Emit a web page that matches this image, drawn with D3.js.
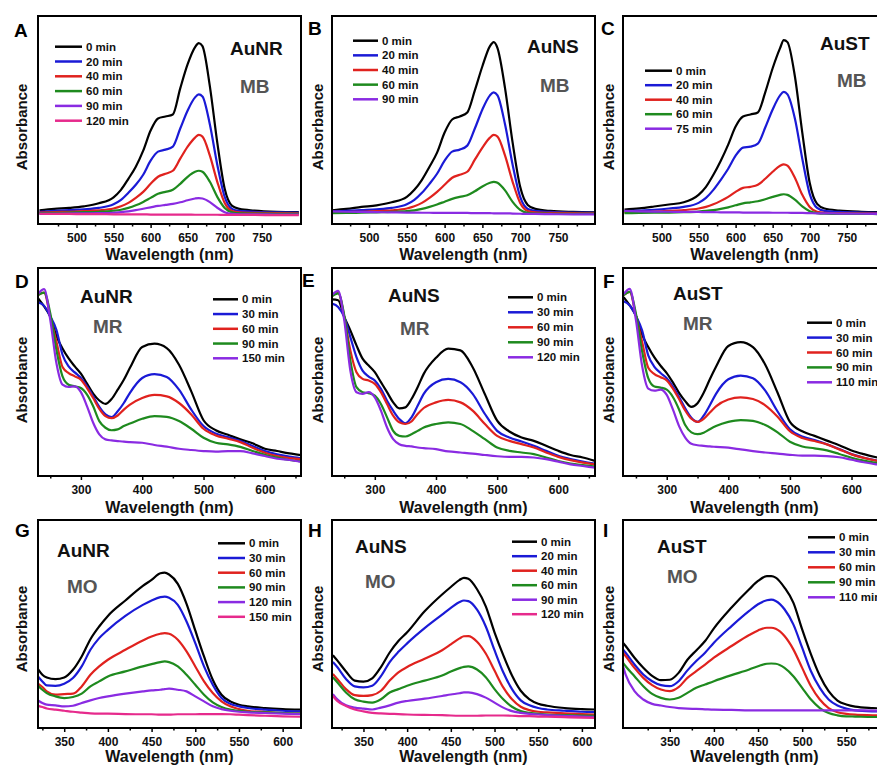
<!DOCTYPE html>
<html>
<head>
<meta charset="utf-8">
<script src="https://cdn.jsdelivr.net/npm/d3@7"></script>
<style>
body { margin: 0; background: #fff; }
svg text { font-family: "Liberation Sans", Arial, sans-serif; font-weight: bold; }
</style>
</head>
<body>
<svg id="fig" width="877" height="767"></svg>
<script>
// wavelength grids (nm)
var mbWl = [450, 470, 490, 510, 530, 550, 560, 570, 580, 590, 600, 610, 620, 630, 640, 650, 660, 665, 670, 680, 690, 700, 710, 720, 740, 770, 800];
var mrWl = [230, 240, 250, 260, 270, 280, 290, 300, 310, 320, 330, 340, 350, 360, 370, 380, 400, 420, 440, 460, 480, 500, 520, 540, 560, 580, 600, 620, 640, 660];
var wlG = [320, 325, 330, 340, 350, 360, 370, 380, 390, 400, 420, 440, 450, 460, 465, 470, 480, 490, 500, 510, 520, 530, 540, 550, 560, 580, 600, 620];
var wlH = [315, 320, 330, 340, 350, 360, 370, 380, 390, 400, 420, 440, 450, 460, 465, 470, 480, 490, 500, 510, 520, 530, 540, 550, 560, 580, 600, 615];
var wlI = [297, 300, 310, 320, 330, 340, 350, 360, 370, 380, 390, 400, 420, 440, 450, 460, 465, 470, 480, 490, 500, 510, 520, 530, 540, 550, 560, 580, 595];

// legend labels
var timesA = ["0 min", "20 min", "40 min", "60 min", "90 min", "120 min"];
var timesB = ["0 min", "20 min", "40 min", "60 min", "90 min"];
var timesC = ["0 min", "20 min", "40 min", "60 min", "75 min"];
var timesD = ["0 min", "30 min", "60 min", "90 min", "150 min"];
var timesE = ["0 min", "30 min", "60 min", "90 min", "120 min"];
var timesF = ["0 min", "30 min", "60 min", "90 min", "110 min"];
var timesG = ["0 min", "30 min", "60 min", "90 min", "120 min", "150 min"];
var timesH = ["0 min", "20 min", "40 min", "60 min", "90 min", "120 min"];
var timesI = ["0 min", "30 min", "60 min", "90 min", "110 min"];

// absorbance (a.u.), one row per time
var absA = [
    [3.3, 4.0, 4.5, 5.3, 6.8, 9.8, 13.5, 19, 25, 33, 43, 49, 50, 51, 64, 76, 84.5, 86.5, 85, 65, 37, 14, 5.5, 4, 3.2, 2.6, 2.4],
    [2.6, 3.0, 3.4, 3.8, 4.5, 6.3, 8.5, 12, 16, 21, 28, 32.5, 33.5, 35, 44, 53, 59.5, 61, 60, 46, 26, 10, 4, 3, 2.6, 2.3, 2.2],
    [2.2, 2.4, 2.6, 2.9, 3.3, 4.2, 5.3, 7, 9.5, 12.5, 16.5, 20, 21.5, 23, 29, 35, 39.5, 40.8, 40, 30.5, 17.5, 7, 3, 2.3, 2.0, 1.9, 1.8],
    [1.9, 2.0, 2.2, 2.4, 2.6, 3.1, 3.6, 4.5, 5.8, 7.5, 9.5, 11.5, 12.5, 13.5, 16.5, 20, 22.5, 23, 22.5, 17.5, 10, 4.5, 2.3, 1.8, 1.7, 1.6, 1.6],
    [1.5, 1.6, 1.7, 1.8, 1.9, 2.1, 2.4, 2.8, 3.4, 4.1, 4.8, 5.5, 6, 6.5, 7.3, 8.3, 9.2, 9.4, 9.2, 7.4, 4.6, 2.4, 1.5, 1.3, 1.3, 1.2, 1.2],
    [1.6, 1.5, 1.5, 1.4, 1.4, 1.3, 1.3, 1.3, 1.3, 1.3, 1.2, 1.2, 1.2, 1.2, 1.2, 1.2, 1.1, 1.1, 1.1, 1.1, 1.1, 1.0, 1.0, 1.0, 1.0, 0.9, 0.9]
];
var absB = [
    [3.3, 4.0, 5.0, 5.8, 7.3, 10, 13.5, 18.5, 25, 32, 42, 48.5, 50, 52, 63, 75, 85, 87, 84, 64, 37, 15, 6, 4, 3, 2.5, 2.3],
    [2.6, 3.0, 3.4, 3.8, 4.5, 6.3, 8.5, 12, 16.5, 21.5, 28, 32.5, 33.5, 35.5, 44, 53.5, 60.5, 62, 60.5, 46, 26, 10, 4, 3, 2.5, 2.2, 2.1],
    [2.2, 2.4, 2.6, 2.9, 3.3, 4.2, 5.3, 7, 9.5, 12.5, 16, 19.5, 21, 22.5, 28.5, 34.5, 39.5, 40.8, 40, 30.5, 17.5, 7, 3, 2.3, 2.0, 1.9, 1.8],
    [1.9, 2.0, 2.1, 2.3, 2.5, 2.9, 3.3, 4.0, 5.0, 6.2, 7.6, 9.0, 10, 10.8, 12.8, 15.2, 17, 17.5, 17, 13.2, 7.5, 3.5, 2, 1.7, 1.6, 1.5, 1.5],
    [2.8, 2.6, 2.5, 2.4, 2.3, 2.2, 2.2, 2.1, 2.1, 2.0, 2.0, 2.0, 2.0, 2.0, 1.9, 1.9, 1.9, 1.8, 1.8, 1.8, 1.7, 1.6, 1.5, 1.5, 1.4, 1.3, 1.3]
];
var absC = [
    [3.7, 4.3, 5.2, 6.2, 7.3, 11, 15, 21, 28, 36, 45, 50, 51, 52, 62, 74, 84, 88, 87, 70, 42, 17, 6.5, 4.2, 3.2, 2.6, 2.4],
    [2.8, 3.2, 3.6, 4.2, 5.0, 7, 9.5, 13.5, 18.5, 24, 30.5, 34.5, 35, 36.5, 44.5, 53.5, 60.5, 62.2, 61, 49, 29, 11.5, 4.5, 3, 2.5, 2.2, 2.0],
    [2.3, 2.5, 2.7, 3.0, 3.4, 4.2, 5.0, 6.3, 8.0, 10, 12.5, 14.5, 15, 16, 19, 22.5, 25.5, 26.2, 25.5, 19.5, 11, 5, 2.6, 2.1, 1.9, 1.8, 1.7],
    [1.9, 2.0, 2.1, 2.2, 2.4, 2.7, 3.0, 3.4, 4.0, 4.8, 5.8, 6.8, 7.3, 7.8, 8.8, 10, 11, 11.3, 11, 8.6, 5.3, 2.9, 1.9, 1.6, 1.5, 1.5, 1.4],
    [3.0, 2.8, 2.7, 2.6, 2.5, 2.5, 2.4, 2.4, 2.3, 2.3, 2.3, 2.2, 2.2, 2.2, 2.2, 2.1, 2.1, 2.1, 2.1, 2.0, 2.0, 1.9, 1.8, 1.8, 1.7, 1.6, 1.5]
];
var absD = [
    [85.5, 81.5, 76.7, 67.4, 61.3, 56.5, 52.7, 49.2, 44.4, 39.6, 36.3, 34.7, 37, 41.5, 46.3, 52, 62, 63.6, 61.5, 53.5, 40.7, 26.8, 22, 19.8, 17.6, 15.7, 13.1, 12, 10.9, 10],
    [83.5, 81.8, 76.7, 70.3, 58.3, 52.7, 49.8, 47.1, 43.1, 38.3, 33.2, 29.6, 28.3, 31.1, 35.1, 40, 47.1, 49, 47.6, 41.5, 31.9, 24, 20.4, 18.7, 16.8, 14.4, 12, 10.4, 9.3, 8.5],
    [87, 88.2, 76.7, 64.7, 52.4, 49.5, 47.9, 46.3, 42.3, 37.5, 32.3, 28.8, 27.8, 29.1, 31.9, 34.3, 37.5, 39, 38.3, 35.1, 29.6, 22.7, 19.5, 17.9, 16.3, 13.6, 11.2, 9.6, 8.6, 8],
    [87, 88.2, 78.3, 60.7, 47.9, 43.9, 43.1, 42.3, 39.1, 33.5, 26.4, 23.2, 22, 22.4, 24, 25.2, 27.5, 28.8, 28.4, 26.4, 22.7, 18.4, 16, 15.2, 14, 12, 10.2, 8.8, 7.7, 7],
    [87.5, 89.8, 75.1, 54.3, 43.9, 42.8, 43.1, 40.3, 33.5, 25.6, 20, 17.6, 17.1, 16.8, 16.5, 16.3, 16, 14.9, 14.1, 13.1, 12.5, 12, 11.7, 12, 12, 10.9, 9.6, 8.3, 7.7, 6.7]
];
var absE = [
    [84.9, 84.5, 76.5, 70, 62.8, 56.4, 53.1, 49.9, 45.1, 40.3, 35.4, 32.5, 33, 37, 42.7, 49.1, 56.8, 61.2, 60.4, 52.3, 39.3, 26.6, 21.4, 18.5, 16.9, 14.5, 12.1, 10.1, 8.9, 7.2],
    [82.9, 81.3, 76.5, 66.8, 57.2, 50.7, 47.8, 45.9, 41.9, 36.2, 31.4, 27.4, 25.3, 28.2, 33.8, 39.5, 45.1, 46.7, 45.1, 39.5, 29.8, 21.7, 18.5, 16.6, 14.5, 12.1, 9.7, 8.1, 6.9, 5.9],
    [86.5, 88.1, 76.5, 60.4, 49.9, 46.7, 45.9, 44.3, 40.3, 34.6, 29, 25.8, 25, 26.2, 29.8, 32.7, 35.4, 36.6, 35.4, 31.4, 25, 19.3, 16.9, 15.3, 13.7, 11.3, 9.2, 7.6, 6.4, 5.6],
    [86.5, 87.8, 77.3, 55.6, 42.7, 40.3, 39.8, 38.6, 34.6, 28.2, 21.7, 19.3, 19, 20.1, 21.7, 23.3, 25, 25.8, 25, 21.7, 17.7, 13.7, 12.1, 11.3, 10.5, 8.9, 7.2, 6, 5.2, 4.5],
    [87, 89, 74.9, 50.7, 40.3, 39.5, 40.3, 37.8, 31.4, 23.3, 17.7, 15.3, 14.5, 14.2, 13.7, 13.4, 12.9, 11.8, 11.3, 10.8, 10.1, 9.5, 9.2, 9.2, 8.9, 8.1, 6.9, 5.6, 4.8, 4]
];
var absF = [
    [86, 82, 77, 68, 62, 57, 53, 49.5, 45, 40, 36, 33.2, 35, 40, 46.5, 52.5, 62.5, 64.4, 62, 53.5, 40, 26, 21.5, 19.3, 17, 14.8, 12.3, 10.5, 9, 7.8],
    [84, 82, 77, 70, 58, 52.5, 49.5, 47, 43, 38, 32.5, 28, 26, 29, 34, 39.5, 46.5, 48.3, 47, 41, 31, 22.5, 19, 17.3, 15.3, 13, 10.5, 8.8, 7.5, 6.5],
    [87, 88.5, 77, 64.5, 52, 49, 47.5, 46, 42, 37, 31.5, 27.5, 26, 27.5, 30.5, 33.5, 36.8, 37.8, 37, 34, 28.5, 21.5, 18.3, 16.8, 15.2, 12.8, 10.4, 8.7, 7.4, 6.5],
    [87, 88.5, 78, 60, 47, 43, 42.5, 41.5, 38, 32, 24.5, 21, 20.1, 20.8, 22.5, 24, 26, 26.9, 26.5, 24.5, 21, 16.5, 14.2, 13.3, 12.3, 10.6, 8.8, 7.4, 6.3, 5.5],
    [87.5, 90, 75, 53, 42, 41, 41.5, 39, 32, 24, 18.5, 15.5, 14.8, 14.5, 14.2, 14, 13.6, 12.8, 12, 11.3, 10.8, 10.2, 9.8, 9.8, 9.6, 9, 7.8, 6.6, 5.6, 4.8]
];
var absG = [
    [28.3, 25.6, 24.3, 23.5, 24.3, 28, 34.4, 42.7, 48.8, 53.9, 61.3, 68.3, 71.2, 74.4, 74.7, 73.8, 69.3, 59.7, 46.9, 34.4, 23.2, 16, 12.8, 11.2, 10.4, 9.6, 9.1, 8.8],
    [24.8, 22.4, 20.5, 20.3, 21.3, 24, 29.6, 37.6, 43.2, 47.2, 53.9, 59.2, 61.3, 62.9, 63.2, 62.6, 59.2, 51.2, 40.8, 29.6, 20.8, 14.4, 11.7, 10.4, 9.6, 8.8, 8.3, 8],
    [21.3, 19.7, 17.6, 16, 16.3, 16.5, 20, 25.6, 29.6, 32.8, 37.6, 42.1, 44, 45.3, 45.6, 45.3, 42.4, 36.8, 29.6, 22.4, 16.8, 12.8, 10.4, 9.1, 8.3, 7.7, 7.2, 6.9],
    [20.3, 18.4, 16.8, 15.2, 14.4, 14.9, 16.5, 20, 22.4, 24.8, 27.2, 29.6, 30.7, 31.7, 32, 31.7, 29.6, 25.6, 20.8, 16, 12.3, 10.1, 8.8, 8.2, 7.8, 7.5, 7.2, 6.9],
    [13.3, 12, 11.2, 10.9, 10.4, 10.7, 12, 13.3, 14.4, 15.2, 16.5, 17.6, 18.1, 18.4, 18.7, 18.9, 18.4, 17.6, 15.2, 12.8, 10.4, 9.1, 8.3, 7.8, 7.5, 7.2, 6.9, 6.7],
    [10.7, 10.1, 9.4, 8.8, 8.3, 7.8, 7.4, 7, 6.9, 6.9, 6.7, 6.6, 6.6, 6.4, 6.4, 6.4, 6.6, 6.6, 6.6, 6.7, 6.7, 6.7, 6.6, 6.4, 6.2, 5.9, 5.6, 5.4]
];
var absH = [
    [35, 32.5, 27.2, 22.8, 22.3, 23.9, 29.3, 36.3, 41.8, 46, 56.1, 64.2, 67.8, 71.2, 72.2, 71.7, 66.7, 58.5, 46, 35, 25.2, 17.9, 13.8, 11.7, 10.7, 9.6, 9.1, 8.9],
    [31.7, 29.3, 23.6, 20, 19.5, 20.3, 24.9, 31.7, 36.6, 40.7, 48, 54.5, 57.7, 60.6, 61.3, 61, 56.9, 48.8, 37.4, 26.8, 18.7, 13.3, 10.9, 9.6, 8.9, 8.3, 7.8, 7.6],
    [26, 23.6, 18.7, 15.8, 15.4, 15.8, 17.9, 22.8, 26.8, 29.3, 33.3, 37.4, 40.2, 43.1, 44.1, 44.2, 41.5, 35.8, 27.6, 19.5, 13.8, 10.2, 8.6, 7.8, 7.5, 7, 6.7, 6.5],
    [24.4, 22, 17.1, 13.8, 12.7, 12.2, 13.8, 17.1, 18.7, 20.3, 22.8, 25.2, 27.2, 28.8, 29.4, 29.6, 28.1, 24.4, 18.7, 13.8, 10.2, 8.1, 7.3, 6.8, 6.5, 6.2, 6, 5.9],
    [16.3, 13.8, 10.9, 9.8, 9.3, 8.9, 9.8, 10.9, 12.2, 13, 14.1, 15.4, 16.1, 16.7, 17.1, 17.1, 16.3, 14.6, 12.2, 9.8, 8.1, 7.3, 6.8, 6.5, 6.2, 5.9, 5.5, 5.4],
    [15.4, 13, 10.6, 8.9, 8, 7.3, 7, 6.8, 6.7, 6.5, 6.3, 6.2, 6, 5.9, 5.9, 5.9, 5.9, 6, 6, 6, 5.9, 5.7, 5.7, 5.5, 5.4, 5.2, 5, 4.9]
];
var absI = [
    [41, 39.4, 33.8, 29, 25.1, 23, 23.2, 26.5, 32.8, 37.3, 41.8, 47.9, 57.9, 66.7, 70.7, 73, 73, 72.3, 67.5, 60.3, 47.4, 35.4, 25.1, 17.7, 13.2, 11.3, 10.3, 9.6, 9.3],
    [37.8, 36.2, 30.5, 25.7, 22.5, 20.6, 20.1, 22.5, 27.7, 32.2, 36.2, 41, 49, 56.3, 59.5, 61.4, 61.7, 61.1, 57.1, 49.8, 38.6, 27.3, 19.3, 13.7, 10.8, 9.3, 8.5, 8, 7.9],
    [36.2, 34.6, 28.9, 24.1, 20.6, 18.5, 17.7, 19.6, 24.1, 27.3, 30.5, 33.8, 39.4, 44.7, 46.9, 48.2, 48.2, 47.7, 44.2, 37.8, 28.9, 20.1, 13.7, 9.6, 7.6, 6.8, 6.4, 6.1, 5.9],
    [31.4, 29.7, 24.9, 20.1, 16.4, 14.5, 13.7, 14.5, 16.9, 19.3, 20.9, 22.5, 25.4, 28.1, 29.7, 30.9, 31, 30.9, 28.9, 24.9, 19.3, 13.7, 9.6, 7.2, 6.1, 5.6, 5.5, 5.3, 5.3],
    [29.7, 25.7, 17.7, 13.7, 11.6, 10.8, 10.1, 9.6, 9.3, 9.2, 9, 8.8, 8.7, 8.5, 8.5, 8.5, 8.5, 8.5, 8.5, 8.5, 8.5, 8.5, 8.5, 8.5, 8.5, 8.5, 8.5, 8.4, 8.4]
];

// tick values
var mbTicks = [500, 550, 600, 650, 700, 750];
var mbMinor = [475, 525, 575, 625, 675, 725, 775];
var mrTicks = [300, 400, 500, 600];
var mrMinor = [250, 350, 450, 550, 650];
var moTicks = [350, 400, 450, 500, 550, 600];
var moMinor = [325, 375, 425, 475, 525, 575, 625];

var panels = [
    {id: "A", sample: "AuNR", dye: "MB", wl: mbWl, abs: absA, times: timesA, xd: [448, 803], major: mbTicks, minor: mbMinor},
    {id: "B", sample: "AuNS", dye: "MB", wl: mbWl, abs: absB, times: timesB, xd: [451, 799], major: mbTicks, minor: mbMinor},
    {id: "C", sample: "AuST", dye: "MB", wl: mbWl, abs: absC, times: timesC, xd: [448, 803], major: mbTicks, minor: mbMinor},
    {id: "D", sample: "AuNR", dye: "MR", wl: mrWl, abs: absD, times: timesD, xd: [230, 659], major: mrTicks, minor: mrMinor},
    {id: "E", sample: "AuNS", dye: "MR", wl: mrWl, abs: absE, times: timesE, xd: [230, 660], major: mrTicks, minor: mrMinor},
    {id: "F", sample: "AuST", dye: "MR", wl: mrWl, abs: absF, times: timesF, xd: [229, 656], major: mrTicks, minor: mrMinor},
    {id: "G", sample: "AuNR", dye: "MO", wl: wlG, abs: absG, times: timesG, xd: [320, 621], major: moTicks, minor: moMinor},
    {id: "H", sample: "AuNS", dye: "MO", wl: wlH, abs: absH, times: timesH, xd: [314, 615], major: moTicks, minor: moMinor},
    {id: "I", sample: "AuST", dye: "MO", wl: wlI, abs: absI, times: timesI, xd: [297, 595], major: moTicks, minor: moMinor}
];

// layout
var colX = [38, 332, 623];
var rows = [
    {top: 16, bottom: 224, yd: [-3.5, 100], absY: 127, wlY: 260},
    {top: 268, bottom: 476, yd: [0, 100], absY: 380, wlY: 513},
    {top: 520, bottom: 728, yd: [0, 100], absY: 629, wlY: 762}
];
var absX = [21, 317, 608];
var letterPos = [[14, 37], [308, 35], [601, 35], [15, 288], [302, 287], [603, 288], [15, 537], [308, 537], [603, 537]];
var samplePos = [[230, 55], [527, 53], [820, 50], [80, 303], [388, 302], [673, 300], [57, 557], [355, 553], [657, 553]];
var dyePos = [[240, 93], [540, 92], [837, 87], [93, 333], [400, 335], [683, 330], [67, 593], [365, 588], [667, 583]];
var legendPos = [[55, 46.7, 14.8, 27], [353, 40.7, 14.65, 25], [645, 70.7, 14.5, 27],
                 [213, 299.3, 14.75, 25], [508, 297.3, 15, 25], [807, 322.7, 14.9, 25],
                 [218, 543.3, 14.7, 27], [512, 541.7, 14.5, 25], [808, 537.3, 15, 27]];
var colors = ["#000000", "#1a1ad6", "#e0221e", "#1e8a1e", "#8a2be2", "#e62a8c"];
var plotW = 263;

var svg = d3.select("#fig");
var defs = svg.append("defs");

function inside(list, d) {
    return list.filter(function(v) { return v > d[0] && v < d[1]; });
}

panels.forEach(function(p, k) {
    var row = rows[Math.floor(k / 3)];
    var left = colX[k % 3];
    var x = d3.scaleLinear().domain(p.xd).range([left, left + plotW]);
    var y = d3.scaleLinear().domain(row.yd).range([row.bottom, row.top]);
    var g = svg.append("g").attr("class", "panel-" + p.id);

    defs.append("clipPath").attr("id", "clip" + p.id)
        .append("rect")
        .attr("x", left).attr("y", row.top)
        .attr("width", plotW).attr("height", row.bottom - row.top);

    var line = d3.line()
        .x(function(d, i) { return x(p.wl[i]); })
        .y(function(d) { return y(d); })
        .curve(d3.curveMonotoneX);

    g.append("g").attr("clip-path", "url(#clip" + p.id + ")")
        .selectAll("path").data(p.abs).enter().append("path")
        .attr("d", line)
        .attr("fill", "none")
        .attr("stroke", function(d, i) { return colors[i]; })
        .attr("stroke-width", 2.2)
        .attr("stroke-linejoin", "round");

    // axis
    var ax = g.append("g").attr("transform", "translate(0," + row.bottom + ")")
        .call(d3.axisBottom(x).tickValues(inside(p.major, p.xd)).tickSize(4).tickPadding(5.5));
    var axm = g.append("g").attr("transform", "translate(0," + row.bottom + ")")
        .call(d3.axisBottom(x).tickValues(inside(p.minor, p.xd)).tickSize(2.5).tickFormat(""));
    [ax, axm].forEach(function(a) {
        a.select(".domain").remove();
        a.selectAll("line").attr("stroke", "#000").attr("stroke-width", 1.5);
    });
    ax.selectAll("text").attr("font-size", 12).attr("fill", "#111")
        .style("font-family", "'Liberation Sans', Arial, sans-serif").style("font-weight", "bold");

    // frame
    g.append("rect")
        .attr("x", left).attr("y", row.top)
        .attr("width", plotW).attr("height", row.bottom - row.top)
        .attr("fill", "none").attr("stroke", "#000").attr("stroke-width", 2);

    // titles
    g.append("text").attr("x", left + plotW / 2).attr("y", row.wlY)
        .attr("text-anchor", "middle").attr("font-size", 16).attr("fill", "#111")
        .text("Wavelength (nm)");
    var ac = absX[k % 3] + 5.5;
    g.append("text").attr("transform", "translate(" + ac + "," + row.absY + ") rotate(-90)")
        .attr("text-anchor", "middle").attr("font-size", 15).attr("fill", "#111")
        .text("Absorbance");

    g.append("text").attr("x", letterPos[k][0]).attr("y", letterPos[k][1])
        .attr("font-size", 19).attr("fill", "#000").text(p.id);
    g.append("text").attr("x", samplePos[k][0]).attr("y", samplePos[k][1])
        .attr("font-size", 19).attr("fill", "#111").text(p.sample);
    g.append("text").attr("x", dyePos[k][0]).attr("y", dyePos[k][1])
        .attr("font-size", 19).attr("fill", "#555").text(p.dye);

    // legend
    var lp = legendPos[k];
    var lg = g.selectAll(".leg").data(p.times).enter().append("g")
        .attr("transform", function(d, i) { return "translate(" + lp[0] + "," + (lp[1] + i * lp[2]) + ")"; });
    lg.append("line").attr("x1", 0).attr("x2", lp[3]).attr("y1", 0).attr("y2", 0)
        .attr("stroke", function(d, i) { return colors[i]; }).attr("stroke-width", 2.5);
    lg.append("text").attr("x", lp[3] + 4).attr("y", 4)
        .attr("font-size", 11.5).attr("fill", "#111").text(function(d) { return d; });
});
</script>
</body>
</html>
